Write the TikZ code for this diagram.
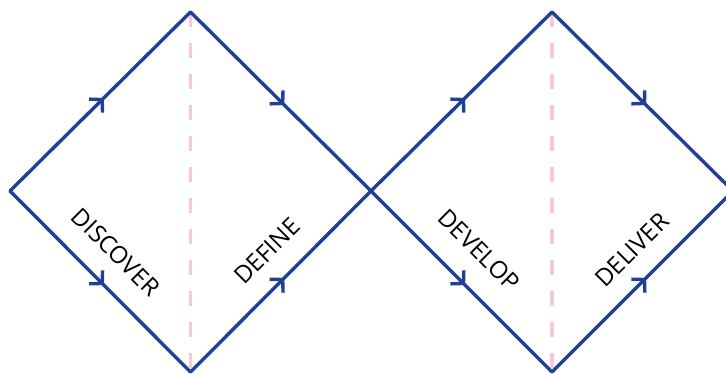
\documentclass[tikz,border=0pt]{standalone}
\usepackage{fontspec}
\setmainfont{Open Sans}
\usetikzlibrary{arrows.meta,decorations.markings}
\definecolor{dblue}{RGB}{31,64,148}
\definecolor{lpink}{RGB}{245,200,220}
\tikzset{
  edge/.style={draw=dblue, line width=3.4pt, line cap=round,
    postaction={decorate},
    decoration={markings, mark=at position 0.52 with {\arrow{Straight Barb[length=9pt,width=19pt,line width=3.4pt]}}}},
  divider/.style={draw=lpink, line width=3.2pt, dash pattern=on 15pt off 16pt},
  phase/.style={font=\fontsize{24}{28}\selectfont, text=black, inner sep=0pt}
}
\begin{document}
\begin{tikzpicture}[x=1pt,y=-1pt]
  \useasboundingbox (0,0) rectangle (726,374);
  \clip (0,0) rectangle (726,374);
  % diamond corners
  \coordinate (L1) at (10,191);
  \coordinate (T1) at (190.5,12);
  \coordinate (M)  at (371,191);
  \coordinate (B1) at (190.5,372);
  \coordinate (T2) at (552,12);
  \coordinate (B2) at (552,372);
  \coordinate (R2) at (733,191);
  % dividers
  \draw[divider] (T1) -- (B1);
  \draw[divider] (T2) -- (B2);
  % edges with flow arrows
  \draw[edge] (L1) -- (T1);
  \draw[edge] (L1) -- (B1);
  \draw[edge] (T1) -- (M);
  \draw[edge] (B1) -- (M);
  \draw[edge] (M) -- (T2);
  \draw[edge] (M) -- (B2);
  \draw[edge] (T2) -- (R2);
  \draw[edge] (B2) -- (R2);
  % phase labels
  \node[phase, rotate=-45] (discover) at (116,252) {DISCOVER};
  \node[phase, rotate=45]  (define)   at (267,251) {DEFINE};
  \node[phase, rotate=-45] (develop)  at (479,250) {DEVELOP};
  \node[phase, rotate=45]  (deliver)  at (632,250) {DELIVER};
\end{tikzpicture}
\end{document}
